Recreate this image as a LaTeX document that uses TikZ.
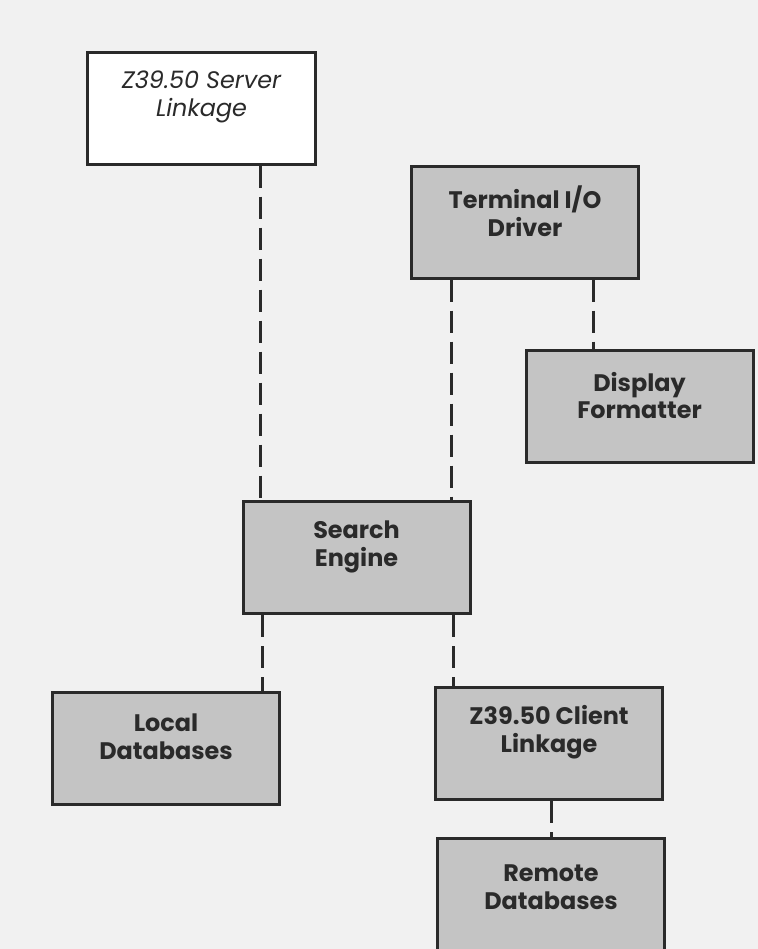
\documentclass[tikz,border=0pt]{standalone}
\usepackage{fontspec}
\setmainfont{Poppins}
\usepackage{tikz}
\definecolor{paper}{HTML}{F1F1F1}
\definecolor{boxgray}{HTML}{C4C4C4}
\definecolor{ink}{HTML}{2A2A2A}

\begin{document}
\begin{tikzpicture}[x=1bp, y=-1bp,
    every node/.style={text=ink},
    module/.style={draw=ink, line width=3bp, fill=boxgray, minimum width=227bp, minimum height=112bp, inner sep=0pt},
    plainmodule/.style={module, fill=white},
    modtext/.style={align=center, font=\fontsize{24}{28}\selectfont\bfseries, yshift=11bp},
    link/.style={draw=ink, line width=3bp, dash pattern=on 22bp off 9bp}]

    % Paper and page size
    \fill[paper] (0,0) rectangle (758,949);
    \useasboundingbox (0,0) rectangle (758,949);

    % Draw the modules
    \node[plainmodule] (server) at (201.5,108) {};
    \node[module] (terminal) at (525,222) {};
    \node[module] (display) at (639.5,406.5) {};
    \node[module] (search) at (356.5,557.5) {};
    \node[module] (local) at (166,748) {};
    \node[module] (client) at (549,743.5) {};
    \node[module, minimum height=120bp] (remote) at (551,898) {};

    % Module names
    \node[modtext, font=\fontsize{24}{28}\selectfont\itshape] (server-txt) at (server) {Z39.50 Server\\Linkage};
    \node[modtext] (terminal-txt) at (terminal) {Terminal I/O\\Driver};
    \node[modtext] (display-txt) at (display) {Display\\Formatter};
    \node[modtext] (search-txt) at (search) {Search\\Engine};
    \node[modtext] (local-txt) at (local) {Local\\Databases};
    \node[modtext] (client-txt) at (client) {Z39.50 Client\\Linkage};
    \node[modtext] (remote-txt) at (remote) {Remote\\Databases};

    % Dashed links between the modules
    \draw[link] (server.south -| 260,0) -- (search.north -| 260,0);
    \draw[link] (terminal.south -| 451,0) -- (search.north -| 451,0);
    \draw[link] (terminal.south -| 593,0) -- (display.north -| 593,0);
    \draw[link] (search.south -| 262,0) -- (local.north -| 262,0);
    \draw[link] (search.south -| 453,0) -- (client.north -| 453,0);
    \draw[link] (client.south -| 551,0) -- (remote.north -| 551,0);

\end{tikzpicture}
\end{document}
